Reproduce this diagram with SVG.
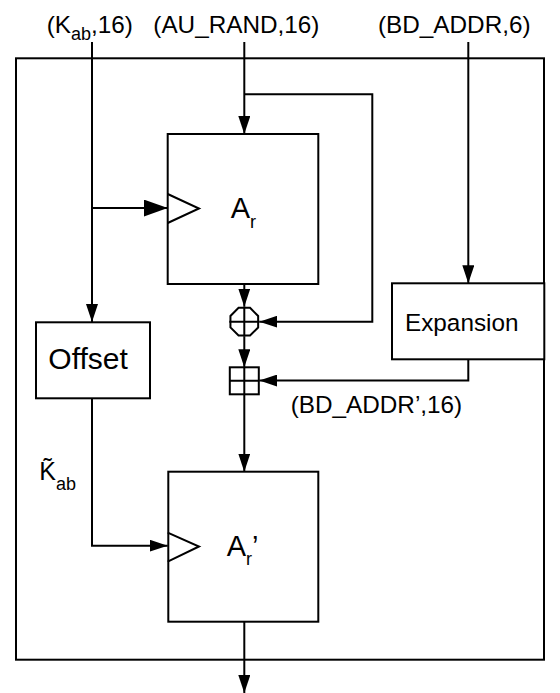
<svg xmlns="http://www.w3.org/2000/svg" width="560" height="693" viewBox="0 0 560 693">
<style>
.ln{fill:none;stroke:#000;stroke-width:2}
.bx{fill:#fff;stroke:#000;stroke-width:2}
.t{font-family:"Liberation Sans",Arial,Helvetica,sans-serif;fill:#000}
.lbl{font-size:24.3px}
.big{font-size:29px}
.sub{font-size:18px}
</style>
<defs>
<marker id="ah" markerUnits="userSpaceOnUse" markerWidth="18" markerHeight="12" refX="18" refY="6" orient="auto"><path d="M0,0 L18,6 L0,12 z" fill="#000"/></marker>
<marker id="ahb" markerUnits="userSpaceOnUse" markerWidth="24" markerHeight="17" refX="24" refY="8.5" orient="auto"><path d="M0,0 L24,8.5 L0,17 z" fill="#000"/></marker>
</defs>
<rect id="frame" x="16" y="58.3" width="528" height="601.4" class="ln"/>
<g id="connectors">
<path class="ln" d="M92,42 V322" marker-end="url(#ah)"/>
<path class="ln" d="M92,208 H167.7" marker-end="url(#ahb)"/>
<path class="ln" d="M244.3,42 V134" marker-end="url(#ah)"/>
<path class="ln" d="M244.3,94.3 H372.3 V321.7 H259.3" marker-end="url(#ah)"/>
<path class="ln" d="M468.3,42 V283.3" marker-end="url(#ah)"/>
<path class="ln" d="M244.3,284 V306.7" marker-end="url(#ah)"/>
<path class="ln" d="M244.3,336.7 V367.3" marker-end="url(#ah)"/>
<path class="ln" d="M468.3,359.3 V380.5 H259.3" marker-end="url(#ah)"/>
<path class="ln" d="M244.3,394 V471.7" marker-end="url(#ah)"/>
<path class="ln" d="M92,398.3 V545.7 H167.7" marker-end="url(#ah)"/>
<path class="ln" d="M244.3,621.7 V693" marker-end="url(#ah)"/>
</g>
<g id="ar">
<rect class="bx" x="167.7" y="134" width="150.6" height="150"/>
<polyline class="ln" points="167.7,194 199,208.5 167.7,223"/>
<text class="t big" x="230.7" y="218.3">A<tspan class="sub" dy="9.4">r</tspan></text>
</g>
<g id="xor">
<polygon class="bx" points="258.16,327.44 250.04,335.56 238.56,335.56 230.44,327.44 230.44,315.96 238.56,307.84 250.04,307.84 258.16,315.96"/>
<path class="ln" d="M229.3,321.7 H259.3 M244.3,306.7 V336.7"/>
</g>
<g id="add">
<rect class="bx" x="229.8" y="367.3" width="29" height="27"/>
<path class="ln" d="M229.8,380.7 H258.8 M244.3,367.3 V394.3"/>
</g>
<g id="offset">
<rect class="bx" x="36" y="322.3" width="114" height="76"/>
<text class="t" style="font-size:30px" x="48.3" y="368.5">Offset</text>
</g>
<g id="expansion">
<rect class="bx" x="392" y="283.3" width="152.3" height="76"/>
<text class="t lbl" x="405" y="330.7">Expansion</text>
</g>
<g id="arp">
<rect class="bx" x="168.3" y="471.7" width="150" height="150"/>
<polyline class="ln" points="167.7,532.7 199,546.5 167.7,561.7"/>
<text class="t big" x="226.7" y="556">A<tspan class="sub" dy="9.4">r</tspan><tspan dy="-9.4">’</tspan></text>
</g>
<g id="labels">
<text class="t lbl" x="46.7" y="33.3">(K<tspan class="sub" dy="6.3">ab</tspan><tspan dy="-6.3">,16)</tspan></text>
<text class="t lbl" x="153.3" y="33.3">(AU_RAND,16)</text>
<text class="t lbl" x="378" y="33.3">(BD_ADDR,6)</text>
<text class="t lbl" x="290.7" y="413.3">(BD_ADDR’,16)</text>
<text class="t" style="font-size:25px" x="39.3" y="480">K̃<tspan class="sub" dy="10">ab</tspan></text>
</g>
</svg>
